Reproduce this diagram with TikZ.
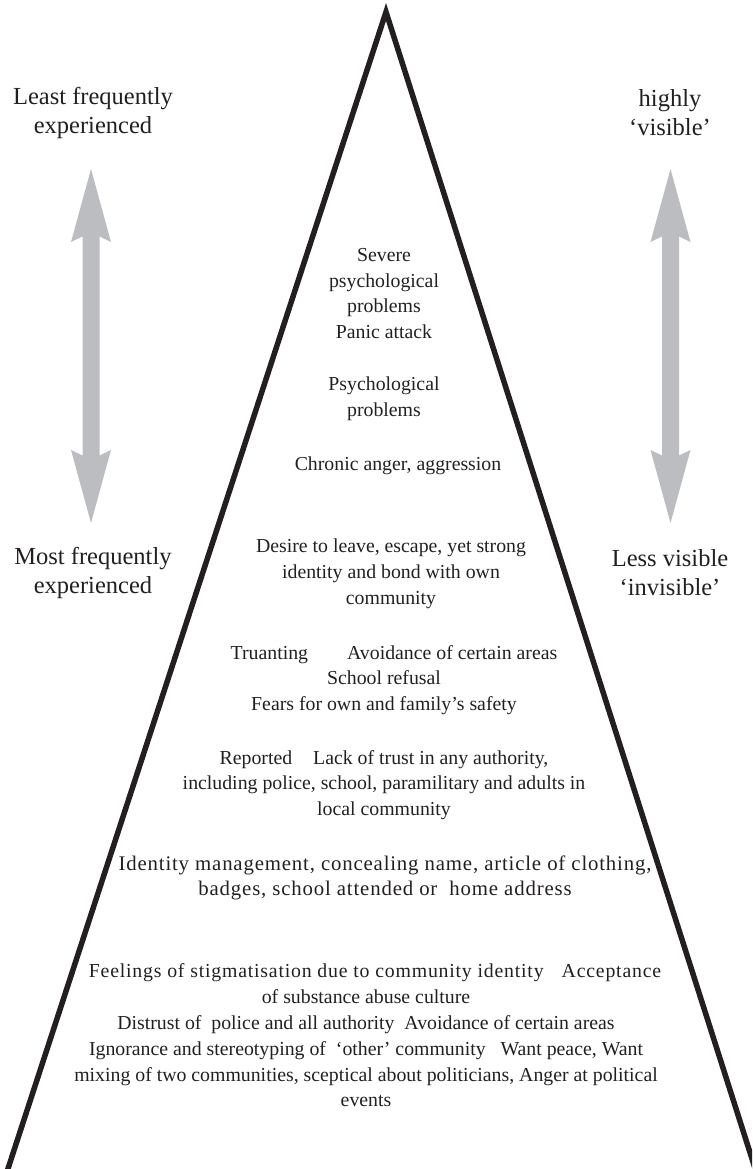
\documentclass[tikz,border=0pt]{standalone}
\usepackage{fontspec}
\setmainfont{Liberation Serif}
\definecolor{ink}{HTML}{231F20}
\definecolor{arrowgray}{HTML}{BCBDC0}
\begin{document}
\begin{tikzpicture}[x=1pt,y=-1pt,
  every node/.style={text=ink, inner sep=0pt, outer sep=0pt},
  body/.style={font=\fontsize{19.8}{25.8}\selectfont, align=center},
  widebody/.style={font=\fontsize{20.8}{25.8}\selectfont\addfontfeatures{LetterSpace=4}, align=center},
  side/.style={font=\fontsize{24.5}{29}\selectfont, align=center},
  bigarrow/.style={fill=arrowgray}]
\useasboundingbox (0,0) rectangle (752,1169);
% triangle
\begin{scope}
\clip (0,0) rectangle (752,1169);
\coordinate (apex) at (386,12);
\coordinate (bl) at (2,1187);
\coordinate (br) at (761,1187);
\draw[ink, line width=5.5pt, line join=miter] (bl) -- (apex) -- (br);
\end{scope}
% double arrows
\foreach \cx/\nm in {91/left, 670.5/right}{
  \coordinate (\nm top) at (\cx,169);
  \coordinate (\nm bot) at (\cx,523);
  \fill[bigarrow] (\nm top) -- ++(20,73) -- ++(-11.5,-5.5) -- ++(0,219) -- ++(11.5,-5.5)
     -- (\nm bot) -- ++(-20,-73) -- ++(11.5,5.5) -- ++(0,-219) -- ++(-11.5,5.5) -- cycle;
}
% side labels
\node[side] (lfe) at (93,113) {Least frequently\\experienced};
\node[side] (hv) at (670,113) {highly\\`visible'};
\node[side] (mfe) at (93,573) {Most frequently\\experienced};
\node[side] (lv) at (670,573) {Less visible\\`invisible'};
% pyramid text
\node[body] (b1) at (384,293.5) {Severe\\psychological\\problems\\Panic attack};
\node[body] (b2) at (384,398.5) {Psychological\\problems};
\node[body] (b3) at (398,466) {Chronic anger, aggression};
\node[body] (b4) at (391,573.5) {Desire to leave, escape, yet strong\\identity and bond with own\\community};
\node[body] (b5) at (384,680) {\hspace*{20pt}Truanting\hspace{39pt}Avoidance of certain areas\\School refusal\\Fears for own and family's safety};
\node[body] (b6) at (384,785) {Reported\hspace{21pt}Lack of trust in any authority,\\including police, school, paramilitary and adults in\\local community};
\node[widebody] (b7) at (385,878) {Identity management, concealing name, article of clothing,\\badges, school attended or\ \ home address};
\node[body] (b8) at (366,1035.5) {\hspace*{18pt}{\addfontfeatures{LetterSpace=4}Feelings of stigmatisation due to community identity}\hspace{18pt}{\addfontfeatures{LetterSpace=4}Acceptance}\\of substance abuse culture\\Distrust of\ \ police and all authority\ \ Avoidance of certain areas\\Ignorance and stereotyping of\ \ `other' community\ \ \ Want peace, Want\\mixing of two communities, sceptical about politicians, Anger at political\\events};
\end{tikzpicture}
\end{document}
